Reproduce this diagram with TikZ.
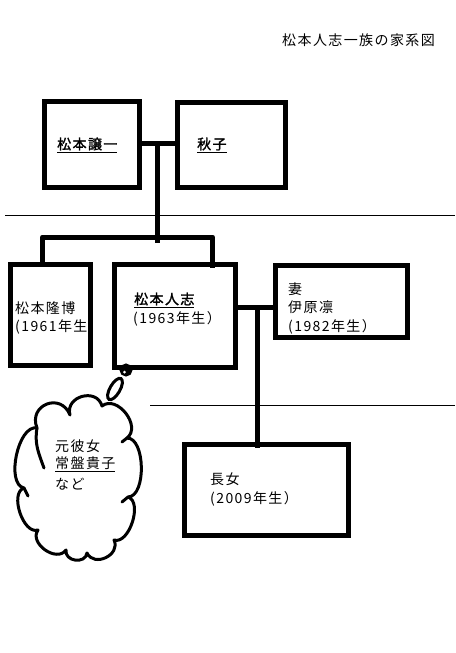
\documentclass[tikz,border=0pt]{standalone}
\usepackage{fontspec}
\setmainfont{Noto Sans CJK JP}[LetterSpace=10]
\newfontfamily\jpb{Noto Sans CJK JP}[LetterSpace=10,FakeBold=1.5]
\usetikzlibrary{shapes.geometric}
\begin{document}
\begin{tikzpicture}[x=1pt,y=-1pt,
  pbox/.style={draw,rectangle,line width=5pt,inner sep=0pt,outer sep=0pt},
  conn/.style={line width=5pt,line join=round},
  thin/.style={line width=1pt},
  cloudline/.style={line width=3pt,line cap=round,line join=round},
  txt/.style={anchor=west,inner sep=0pt,font=\fontsize{14}{16}\selectfont},
  btxt/.style={txt,font=\fontsize{14}{16}\selectfont\jpb}]
\useasboundingbox[fill=white] (0,0) rectangle (455,653);

% title
\node[txt] (title) at (282,40) {松本人志一族の家系図};

% boxes
\node[pbox,minimum width=94.5,minimum height=86.5] (A) at (91.75,144.25) {};
\node[pbox,minimum width=108,minimum height=85] (B) at (231.5,145) {};
\node[pbox,minimum width=80.5,minimum height=101] (C) at (50.25,315) {};
\node[pbox,minimum width=121,minimum height=103] (D) at (175,316) {};
\node[pbox,minimum width=132,minimum height=72] (E) at (341.5,301.5) {};
\node[pbox,minimum width=163.5,minimum height=91] (F) at (266.25,490) {};

% texts
\node[btxt] (tA) at (57,145) {\underline{松本譲一}};
\node[btxt] (tB) at (197,145) {\underline{秋子}};
\node[txt] (tC1) at (15,308) {松本隆博};
\node[txt] (tC2) at (15,327) {(1961年生};
\node[btxt] (tD1) at (134,300) {\underline{松本人志}};
\node[txt] (tD2) at (133,319) {(1963年生）};
\node[txt] (tE1) at (288,289) {妻};
\node[txt] (tE2) at (288,307) {伊原凛};
\node[txt] (tE3) at (288,327) {(1982年生）};
\node[txt] (tF1) at (210,479) {長女};
\node[txt] (tF2) at (210,499) {(2009年生）};

% separator lines
\coordinate (s1a) at (5,215);
\coordinate (s1b) at (455,215);
\coordinate (s2a) at (150,405);
\coordinate (s2b) at (455,405);
\draw[thin] (s1a) -- (s1b);
\draw[thin] (s2a) -- (s2b);

% connectors
\coordinate (jAB) at (157.5,143);
\coordinate (jK) at (157.5,243);
\coordinate (kL) at (42.5,237);
\coordinate (kR) at (212.5,237);
\draw[conn] (A.east |- jAB) -- (B.west |- jAB);
\draw[conn] (jAB) -- (jK);
\draw[conn] (C.north -| kL) -- (kL) -- (kR) -- ([yshift=-3pt]D.north -| kR);
\coordinate (jDE) at (257.5,307);
\draw[conn] (D.east |- jDE) -- (E.west |- jDE);
\draw[conn] (jDE) -- ([yshift=-3pt]F.north -| jDE);

% thought bubbles
\node[draw,ellipse,line width=3pt,minimum width=10,minimum height=24,inner sep=0pt,rotate=-30] (bub1) at (115,389) {};
\node[draw,fill,circle,line width=2pt,minimum size=11,inner sep=0pt] (bub2) at (126,370) {};
\fill[white] (124.5,372) circle (1.5);

% cloud
\draw[cloudline] (37,428) to[bend left=90,looseness=1.8] (70,415)
  to[bend left=90,looseness=1.5] (102,406)
  to[bend left=90,looseness=1.2] (127,438)
  to[bend left=90,looseness=0.8] (128,497)
  to[bend left=90,looseness=0.9] (114,540)
  to[bend left=90,looseness=1.4] (87,553)
  to[bend left=90,looseness=1.4] (66,550)
  to[bend left=90,looseness=1.2] (38,530)
  to[bend left=90,looseness=0.9] (24,488)
  to[bend left=90,looseness=0.8] (37,428);
\draw[cloudline] (37,428) to[out=-100,in=110] (44,468);
\draw[cloudline] (127,438) -- (122,442);
\draw[cloudline] (128,497) -- (122,502);
\draw[cloudline] (24,488) -- (28,496);

\node[txt] (cl1) at (55,446) {元彼女};
\node[txt] (cl2) at (55,464) {\underline{常盤貴子}};
\node[txt] (cl3) at (55,484) {など};
\end{tikzpicture}
\end{document}
